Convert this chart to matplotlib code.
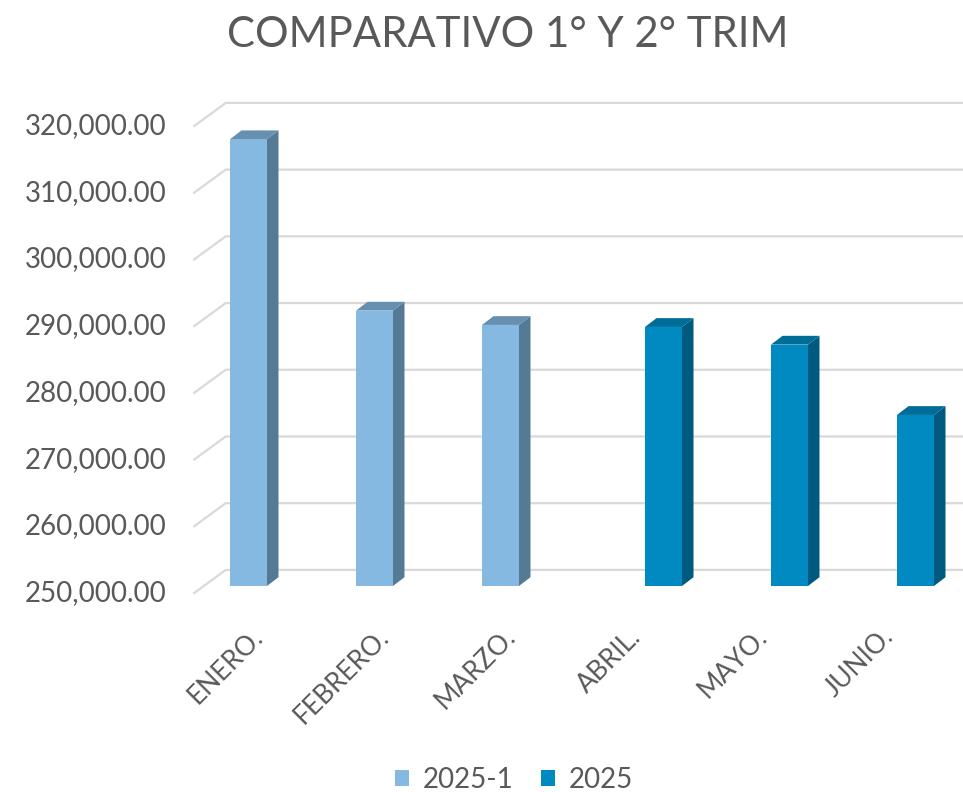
import matplotlib
matplotlib.use("Agg")
import matplotlib.pyplot as plt
from matplotlib.patches import Polygon, Patch
import numpy as np

# ---- data ----
categories = ["ENERO.", "FEBRERO.", "MARZO.", "ABRIL.", "MAYO.", "JUNIO."]
series_names = ["2025-1", "2025"]
values_2025_1 = [316970, 291280, 289130, None, None, None]
values_2025 = [None, None, None, 288830, 286180, 275640]
yticks = [250000, 260000, 270000, 280000, 290000, 300000, 310000, 320000]
title = "COMPARATIVO 1° Y 2° TRIM"

plt.rcParams['font.family'] = ['Lato', 'DejaVu Sans']
TXT = '#595959'
GRID = '#D9D9D9'
colors = {
    "2025-1": dict(front='#85B9E1', side='#557A96', top='#6790B0'),
    "2025": dict(front='#008AC1', side='#005A80', top='#006C98'),
}

W, H = 963, 792
fig = plt.figure(figsize=(W / 100, H / 100), dpi=100)

# axes = front plane of the bars (pixel geometry)
left_px, right_px = 204, 960
bot_px, top_px = 586, 119
ax = fig.add_axes([left_px / W, (H - bot_px) / H, (right_px - left_px) / W, (bot_px - top_px) / H])
ymin, ymax = 250000, 320000
ax.set_xlim(-0.5, len(categories) - 0.5)
ax.set_ylim(ymin, ymax)
ax.axis('off')

pxx = (right_px - left_px) / len(categories)  # px per x unit
pxy = (bot_px - top_px) / (ymax - ymin)       # px per y unit

def dx(p):
    return p / pxx

def dy(p):
    return p / pxy

# wall offsets
bx, by = dx(21.7), dy(16.1)      # back wall
fx, fy = dx(-9.8), dy(-7.0)      # front edge
# bar depth
ddx, ddy = dx(11.5), dy(8.8)

# gridlines (back wall + left side floor diagonals)
x0 = -0.5
for v in yticks:
    ax.plot([x0 + fx, x0 + bx, len(categories) + 1], [v + fy, v + by, v + by],
            color=GRID, lw=1.6, clip_on=False, zorder=1, solid_joinstyle='miter')
    ax.text(x0 + fx - dx(28), v + fy, f"{v:,.2f}", ha='right', va='center',
            fontsize=20, color=TXT)

bw = 37 / pxx
xs = np.arange(len(categories))

def draw_series(vals, offset, c):
    for i, v in enumerate(vals):
        if v is None:
            continue
        xl = xs[i] + offset
        xr = xl + bw
        side = Polygon([(xr, ymin), (xr, v), (xr + ddx, v + ddy), (xr + ddx, ymin + ddy)],
                       closed=True, facecolor=c['side'], edgecolor='none', zorder=2, clip_on=False)
        top = Polygon([(xl, v), (xr, v), (xr + ddx, v + ddy), (xl + ddx, v + ddy)],
                      closed=True, facecolor=c['top'], edgecolor='none', zorder=2, clip_on=False)
        ax.add_patch(side)
        ax.add_patch(top)
    xv = [xs[i] + offset + bw / 2 for i, v in enumerate(vals) if v is not None]
    hv = [v - ymin for v in vals if v is not None]
    ax.bar(xv, hv, bottom=ymin, width=bw, color=c['front'], edgecolor='none', zorder=3, clip_on=False)

draw_series(values_2025_1, -bw, colors["2025-1"])
draw_series(values_2025, 0.0, colors["2025"])

# category labels
for i, lab in enumerate(categories):
    ax.text(xs[i] + dx(1), ymin - dy(38), lab, rotation=45, ha='right', va='top',
            fontsize=19, color=TXT)

fig.text(508 / W, 1 - 35 / H, title, ha='center', va='center', fontsize=30.2, color=TXT)

handles = [Patch(facecolor=colors[n]['front'], edgecolor='none') for n in series_names]
leg = fig.legend(handles, series_names, loc='center', bbox_to_anchor=(514 / W, 12 / H),
                 ncol=2, frameon=False, fontsize=20, handlelength=0.5, handleheight=0.5,
                 handletextpad=0.5, columnspacing=1.0, borderpad=0, labelcolor=TXT)

fig.savefig("out.png", dpi=100)
